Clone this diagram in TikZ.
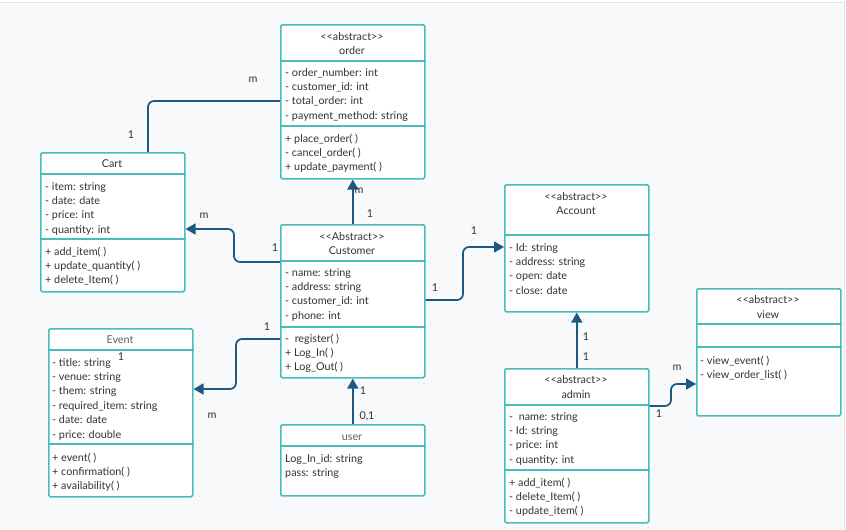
\documentclass[tikz,border=0pt]{standalone}
\usepackage{fontspec}
\setmainfont{Lato}
\usetikzlibrary{arrows.meta}

\definecolor{canvas}{RGB}{248,249,251}
\definecolor{griddot}{RGB}{224,226,230}
\definecolor{frameline}{RGB}{228,229,232}
\definecolor{boxline}{RGB}{74,188,190}
\definecolor{wire}{RGB}{28,88,128}
\definecolor{ink}{RGB}{51,51,51}
\definecolor{softink}{RGB}{95,95,95}

\tikzset{
  classbox/.style={draw=boxline, line width=1.6pt, fill=white, rounded corners=1.5pt,
    inner sep=0pt, anchor=north west},
  divider/.style={draw=boxline, line width=1.6pt},
  txt/.style={font=\fontsize{10.8}{13}\selectfont, text=ink, inner sep=0pt},
  ttl/.style={txt, anchor=base},
  lab/.style={txt, anchor=center},
  link/.style={draw=wire, line width=1.7pt, rounded corners=6pt},
  conn/.style={link, -{Triangle[length=10pt,width=11pt]}},
}

% one compartment of text rows, left aligned
\newcommand\rowlist[4]{%
  \foreach \t [count=\i] in {#4}
    \node[txt, anchor=base west] (#1\i) at (#2, {#3+14.4*(\i-1)}) {\t};}

% class box: name, left, top, width, height
\newcommand\classrect[5]{%
  \node[classbox, minimum width=#4pt, minimum height=#5pt] (#1) at (#2,#3) {};}

% horizontal divider across a class box at a given y
\newcommand\classdiv[2]{%
  \draw[divider] (#1.west |- 0,#2) -- (#1.east |- 0,#2);}

\newcommand\stereo{<\kern0pt<abstract>\kern0pt>}

\begin{document}
\begin{tikzpicture}[x=1pt,y=-1pt]
\useasboundingbox (0,0) rectangle (846,530);

% canvas with dotted grid
\fill[white] (0,0) rectangle (846,530);
\fill[canvas] (0,3) rectangle (843.5,530);
\draw[frameline, line width=1pt] (0,2.5) -- (846,2.5);
\draw[frameline, line width=1pt] (844,2.5) -- (844,530);
\foreach \gx in {8,24,...,840}
  \foreach \gy in {16,32,...,528}
    \fill[griddot] (\gx-0.55,\gy-0.55) rectangle +(1.1,1.1);

% ---------- class boxes ----------
\classrect{order}{280}{24}{144}{154}
\classdiv{order}{61}\classdiv{order}{126}

\classrect{cart}{40}{152}{144}{139}
\classdiv{cart}{174}\classdiv{cart}{239}

\classrect{customer}{280}{224}{144}{153}
\classdiv{customer}{261}\classdiv{customer}{327}

\classrect{account}{504}{184}{144}{127}
\classdiv{account}{235}

\classrect{event}{48}{328}{144}{168}
\classdiv{event}{350}\classdiv{event}{444}

\classrect{admin}{504}{368}{144}{154}
\classdiv{admin}{405}\classdiv{admin}{470}

\classrect{view}{696}{288}{144}{127}
\classdiv{view}{324}\classdiv{view}{347}

\classrect{user}{280}{424}{144}{71}
\classdiv{user}{446}

% ---------- texts ----------
\node[ttl] (orderS) at (352,40) {\stereo};
\node[ttl] (orderT) at (352,54) {order};
\rowlist{orderA}{285}{76}{- order\_number: int, - customer\_id: int, - total\_order: int, - payment\_method: string}
\rowlist{orderM}{285}{142}{+ place\_order( ), - cancel\_order( ), + update\_payment( )}

\node[ttl] (cartT) at (112,167) {Cart};
\rowlist{cartA}{45}{190}{- item: string, - date: date, - price: int, - quantity: int}
\rowlist{cartM}{45}{255}{+ add\_item( ), + update\_quantity( ), + delete\_Item( )}

\node[ttl] (customerS) at (352,240) {<\kern0pt<Abstract>\kern0pt>};
\node[ttl] (customerT) at (352,254) {Customer};
\rowlist{customerA}{285}{276}{- name: string, - address: string, - customer\_id: int, - phone: int}
\rowlist{customerM}{285}{342}{-~~register( ), + Log\_In( ), + Log\_Out( )}

\node[ttl] (accountS) at (576,200) {\stereo};
\node[ttl] (accountT) at (576,214) {Account};
\rowlist{accountA}{509}{251}{- Id: string, - address: string, - open: date, - close: date}

\node[ttl, text=softink] (eventT) at (120,343) {Event};
\rowlist{eventA}{52}{366}{- title: string, - venue: string, - them: string, - required\_item: string, - date: date, - price: double}
\rowlist{eventM}{52}{461}{+ event( ), + confirmation( ), + availability( )}

\node[ttl] (adminS) at (576,383) {\stereo};
\node[ttl] (adminT) at (576,398) {admin};
\rowlist{adminA}{509}{420}{-~~name: string, - Id: string, - price: int, - quantity: int}
\rowlist{adminM}{509}{486}{+ add\_item( ), - delete\_Item( ), - update\_item( )}

\node[ttl] (viewS) at (768,303) {\stereo};
\node[ttl] (viewT) at (768,318) {view};
\rowlist{viewM}{700}{364}{- view\_event( ), - view\_order\_list( )}

\node[ttl, text=softink] (userT) at (352,440) {user};
\rowlist{userA}{285}{462}{Log\_In\_id: string, pass: string}

% ---------- connectors ----------
\coordinate (p1) at (148,101);
\draw[link] (cart.north -| p1) -- (p1) -- (order.west |- p1);

\draw[conn] (customer.north) -- (order.south);

\coordinate (p2) at (234,262);
\coordinate (p3) at (234,229);
\draw[conn] (customer.west |- p2) -- (p2) -- (p3) -- (cart.east |- p3);

\coordinate (p4) at (236,339);
\coordinate (p5) at (236,389);
\draw[conn] (customer.west |- p4) -- (p4) -- (p5) -- (event.east |- p5);

\coordinate (p6) at (463,300);
\coordinate (p7) at (463,247);
\draw[conn] (customer.east |- p6) -- (p6) -- (p7) -- (account.west |- p7);

\draw[conn] (admin.north) -- (account.south);

\coordinate (p8) at (671,406);
\coordinate (p9) at (671,384);
\draw[conn] (admin.east |- p8) -- (p8) -- (p9) -- (view.west |- p9);

\draw[conn] (user.north) -- (customer.south);

% ---------- multiplicities ----------
\node[lab] (m1) at (253,80) {m};
\node[lab] (m2) at (131,135) {1};
\node[lab] (m3) at (359,191) {m};
\node[lab] (m4) at (370,214) {1};
\node[lab] (m5) at (204,216) {m};
\node[lab] (m6) at (275,248) {1};
\node[lab] (m7) at (267,327) {1};
\node[lab] (m8) at (212,416) {m};
\node[lab] (m9) at (121,357) {1};
\node[lab] (m10) at (435,288) {1};
\node[lab] (m11) at (474,231) {1};
\node[lab] (m12) at (586,337) {1};
\node[lab] (m13) at (586,357) {1};
\node[lab] (m14) at (677,368) {m};
\node[lab] (m15) at (659,414) {1};
\node[lab] (m16) at (363,391) {1};
\node[lab] (m17) at (367,416) {0,1};
\end{tikzpicture}
\end{document}
